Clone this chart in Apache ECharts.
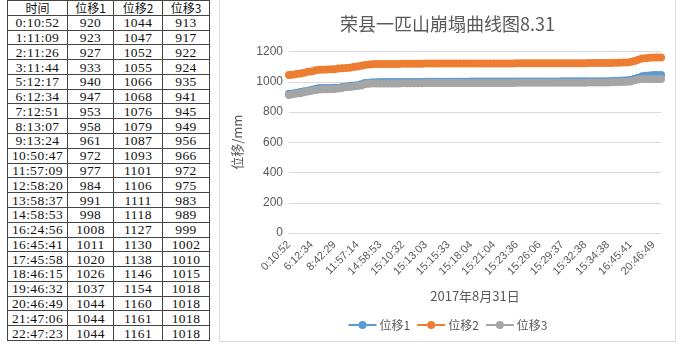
<!DOCTYPE html>
<html>
<head>
<meta charset="utf-8">
<script src="https://cdn.jsdelivr.net/npm/echarts@6.0.0/dist/echarts.min.js"></script>
<style>
	body { margin: 0; background: #fff; width: 680px; height: 350px; overflow: hidden; position: relative; }
	#tbl { position: absolute; left: 7px; top: 0; height: 341px; border-collapse: collapse;
		font-family: 'Liberation Serif', 'Noto Sans CJK SC', serif; font-size: 13.5px; color: #111; }
	#tbl td { border: 1px solid #444; padding: 0; text-align: center; line-height: 13px; letter-spacing: 0.4px; }
	#tbl td.h { font-family: 'Noto Sans CJK SC', sans-serif; font-size: 12px; letter-spacing: 0; }
	#chart { position: absolute; left: 219px; top: 0; width: 455px; height: 341px;
		border: 1px solid #d9d9d9; border-top: none; }
</style>
</head>
<body>
<table id="tbl"></table>
<div id="chart"></div>
<script>
// 表格数据
var tableHead = ['时间', '位移1', '位移2', '位移3'];
var tableTime = ['0:10:52','1:11:09','2:11:26','3:11:44','5:12:17','6:12:34','7:12:51','8:13:07','9:13:24','10:50:47','11:57:09',
	'12:58:20','13:58:37','14:58:53','16:24:56','16:45:41','17:45:58','18:46:15','19:46:32','20:46:49','21:47:06','22:47:23'];
var tableD1 = [920,923,927,933,940,947,953,958,961,972,977,984,991,998,1008,1011,1020,1026,1037,1044,1044,1044];
var tableD2 = [1044,1047,1052,1055,1066,1068,1076,1079,1087,1093,1101,1106,1111,1118,1127,1130,1138,1146,1154,1160,1161,1161];
var tableD3 = [913,917,922,924,935,941,945,949,956,966,972,975,983,989,999,1002,1010,1015,1018,1018,1018,1018];

// 曲线数据
var times = [
	'0:10:52','1:11:09','2:11:26','3:11:44','4:12:00','5:12:17','6:12:34',
	'7:12:51','8:13:07','8:20:28','8:27:48','8:35:09','8:42:29',
	'9:13:24','9:45:50','10:18:19','10:50:47','11:23:58','11:57:14',
	'12:58:20','13:58:37','14:28:45','14:43:49','14:51:21','14:58:53',
	'15:00:49','15:02:46','15:04:42','15:06:39','15:08:35','15:10:32',
	'15:10:57','15:11:22','15:11:47','15:12:13','15:12:38','15:13:03',
	'15:13:28','15:13:53','15:14:18','15:14:43','15:15:08','15:15:33',
	'15:15:58','15:16:23','15:16:48','15:17:14','15:17:39','15:18:04',
	'15:18:34','15:19:04','15:19:34','15:20:04','15:20:34','15:21:04',
	'15:21:29','15:21:55','15:22:20','15:22:45','15:23:11','15:23:36',
	'15:24:01','15:24:26','15:24:51','15:25:16','15:25:41','15:26:06',
	'15:26:41','15:27:16','15:27:51','15:28:27','15:29:02','15:29:37',
	'15:30:07','15:30:37','15:31:07','15:31:37','15:32:08','15:32:38',
	'15:32:58','15:33:18','15:33:38','15:33:58','15:34:18','15:34:38',
	'15:45:49','15:57:00','16:08:11','16:24:56','16:35:18','16:45:41',
	'17:45:58','18:46:15','19:46:32','20:06:38','20:26:43','20:46:49',
	'21:47:06','22:47:23'
];
var disp1 = [
	920,923,927,933,937,940,947,
	953,958,958,959,959,960,
	961,965,968,972,975,977,
	984,991,994,996,997,998,
	998,998,998,998,998,999,999,999,999,999,999,1000,
	1000,1000,1000,1000,1000,1000,1000,1000,1000,1000,1000,1001,
	1001,1001,1001,1001,1001,1001,1001,1001,1001,1001,1001,1002,
	1002,1002,1002,1002,1002,1002,1002,1002,1002,1002,1002,1003,
	1003,1003,1003,1003,1003,1003,1004,1004,1004,1004,1004,1004,
	1005,1006,1007,1008,1010,1011,
	1020,1026,1037,1040,1042,1044,
	1044,1044
];
var disp2 = [
	1044,1047,1052,1055,1060,1066,1068,
	1076,1079,1080,1081,1082,1083,
	1087,1089,1091,1093,1097,1101,
	1106,1111,1114,1116,1117,1118,
	1118,1118,1118,1118,1118,1119,1119,1119,1119,1119,1119,1120,
	1120,1120,1120,1120,1120,1120,1120,1120,1120,1120,1120,1121,
	1121,1121,1121,1121,1121,1121,1121,1121,1121,1121,1121,1122,
	1122,1122,1122,1122,1122,1122,1122,1122,1122,1122,1122,1123,
	1123,1123,1123,1123,1123,1123,1124,1124,1124,1124,1124,1124,
	1124,1125,1126,1127,1128,1130,
	1138,1146,1154,1156,1158,1160,
	1161,1161
];
var disp3 = [
	913,917,922,924,930,935,941,
	945,949,950,951,951,952,
	956,959,963,966,969,972,
	975,983,986,988,989,989,
	989,989,989,989,989,990,990,990,990,990,990,991,
	991,991,991,991,991,991,991,991,991,991,991,992,
	992,992,992,992,992,992,992,992,992,992,992,993,
	993,993,993,993,993,993,993,993,993,993,993,994,
	994,994,994,994,994,994,995,995,995,995,995,995,
	996,997,998,999,1000,1002,
	1010,1015,1018,1018,1018,1018,
	1018,1018
];
var seriesNames = ['位移1', '位移2', '位移3'];
var colors = ['#5b9bd5', '#ed7d31', '#a5a5a5'];

// 画表格
var tbl = document.getElementById('tbl');
var widths = [60, 46, 49, 47];
var html = '<tr>';
for (var c = 0; c < tableHead.length; c++) {
	html += '<td class="h" style="width:' + (widths[c] - 1) + 'px">' + tableHead[c] + '</td>';
}
html += '</tr>';
for (var i = 0; i < tableTime.length; i++) {
	html += '<tr><td>' + tableTime[i] + '</td><td>' + tableD1[i] + '</td><td>' + tableD2[i] + '</td><td>' + tableD3[i] + '</td></tr>';
}
tbl.innerHTML = html;

var font = "'Liberation Sans', 'Noto Sans CJK SC', sans-serif";
var myChart = echarts.init(document.getElementById('chart'));

var series = [];
var all = [disp1, disp2, disp3];
for (var s = 0; s < all.length; s++) {
	series.push({
		name: seriesNames[s],
		type: 'line',
		data: all[s],
		symbol: 'circle',
		symbolSize: 8,
		showSymbol: true,
		showAllSymbol: true,
		lineStyle: { width: 2.5, color: colors[s] },
		itemStyle: { color: colors[s] }
	});
}

var options = {
	animation: false,
	color: colors,
	title: {
		text: '荣县一匹山崩塌曲线图8.31',
		left: 'center',
		top: 10,
		textStyle: { fontFamily: "'Noto Sans CJK SC', sans-serif", fontSize: 18, fontWeight: 'normal', color: '#595959' }
	},
	legend: {
		data: seriesNames,
		left: 'center',
		top: 314,
		itemWidth: 28,
		itemHeight: 10,
		itemGap: 6,
		textStyle: { fontFamily: "'Noto Sans CJK SC', sans-serif", fontSize: 12, color: '#595959', padding: [0, 0, 0, -2] }
	},
	grid: { left: 69, right: 14, top: 51.5, bottom: 108 },
	xAxis: {
		type: 'category',
		boundaryGap: false,
		data: times,
		name: '2017年8月31日',
		nameLocation: 'middle',
		nameGap: 57,
		nameTextStyle: { fontFamily: "'Noto Sans CJK SC', sans-serif", fontSize: 13, color: '#595959' },
		axisLine: { lineStyle: { color: '#d9d9d9' } },
		axisTick: { show: false },
		axisLabel: { interval: 5, rotate: 45, margin: 10, fontFamily: font, fontSize: 11, color: '#595959' }
	},
	yAxis: {
		type: 'value',
		min: 0,
		max: 1200,
		interval: 200,
		name: '位移/mm',
		nameLocation: 'middle',
		nameGap: 45,
		nameTextStyle: { fontFamily: "'Noto Sans CJK SC', sans-serif", fontSize: 13, color: '#595959' },
		axisLine: { show: false },
		axisTick: { show: false },
		axisLabel: {
			margin: 6, fontFamily: font, fontSize: 12, color: '#595959',
			formatter: function(v) { return String(v); }
		},
		splitLine: { lineStyle: { color: '#d9d9d9', width: 1 } }
	},
	series: series
};
myChart.setOption(options);
</script>
</body>
</html>
